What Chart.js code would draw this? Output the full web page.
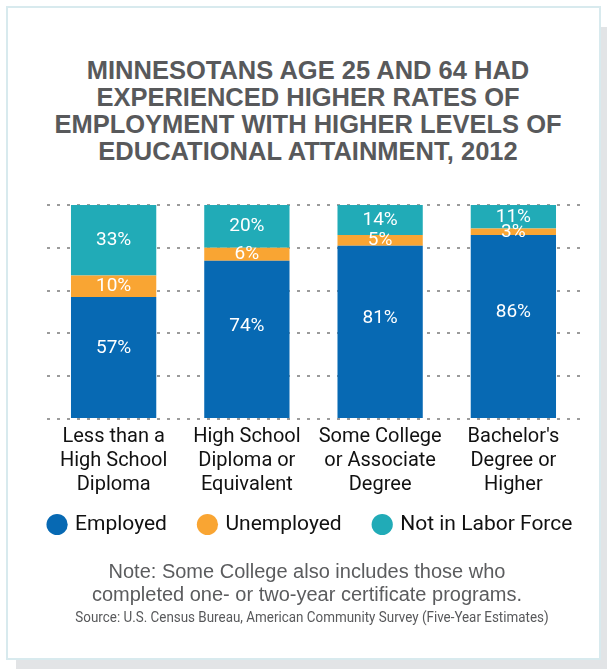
<!DOCTYPE html>
<html>
<head>
<meta charset="utf-8">
<script src="https://cdn.jsdelivr.net/npm/chart.js@4.4.1/dist/chart.umd.min.js"></script>
<style>
  body { margin: 0; background: #fff; width: 607px; height: 669px; overflow: hidden; position: relative; }
  .shadow { position: absolute; left: 16px; top: 27px; width: 600px; height: 660px; background: #e2e4e6; }
  .card { position: absolute; left: 6px; top: 6px; width: 591px; height: 650px; background: #fff; border: 2px solid #d8eaee; }
  .title { position: absolute; left: 0; top: 57px; width: 616px; text-align: center; color: #58595b;
    font: bold 25.5px/27px "Liberation Sans", Arial, sans-serif; }
  .note { position: absolute; left: 0; top: 560px; width: 614px; text-align: center; color: #5b5c5e;
    font: 20px/23px "Liberation Sans", Arial, sans-serif; }
  .source { position: absolute; left: 0; top: 608px; width: 624px; text-align: center; color: #58595b;
    font: 15px Roboto, sans-serif; transform: scaleX(0.894); transform-origin: 312px 0; }
  #chart { position: absolute; left: 0; top: 190px; }
</style>
</head>
<body>
<div class="shadow"></div>
<div class="card"></div>
<div class="title">MINNESOTANS AGE 25 AND 64 HAD<br>EXPERIENCED HIGHER RATES OF<br>EMPLOYMENT WITH HIGHER LEVELS OF<br>EDUCATIONAL ATTAINMENT, 2012</div>
<canvas id="chart" width="611" height="373"></canvas>
<div class="note">Note: Some College also includes those who<br>completed one- or two-year certificate programs.</div>
<div class="source">Source: U.S. Census Bureau, American Community Survey (Five-Year Estimates)</div>
<script>
const categories = [
  ["Less than a", "High School", "Diploma"],
  ["High School", "Diploma or", "Equivalent"],
  ["Some College", "or Associate", "Degree"],
  ["Bachelor's", "Degree or", "Higher"],
];
const seriesNames = ["Employed", "Unemployed", "Not in Labor Force"];
const employed = [57, 74, 81, 86];
const unemployed = [10, 6, 5, 3];
const notInLaborForce = [33, 20, 14, 11];
const colors = ["#0769b3", "#f9a533", "#21abb7"];

const font = "Roboto, sans-serif";

// white % labels inside each segment
const segmentLabels = {
  id: "segmentLabels",
  afterDatasetsDraw(chart) {
    const ctx = chart.ctx;
    ctx.save();
    ctx.fillStyle = "#fff";
    ctx.font = "19px " + font;
    ctx.textAlign = "center";
    ctx.textBaseline = "middle";
    chart.data.datasets.forEach((ds, i) => {
      chart.getDatasetMeta(i).data.forEach((bar, j) => {
        const { x, y, base } = bar.getProps(["x", "y", "base"], true);
        const ty = i === 0 ? y + (base - y) * 0.42 : (y + base) / 2;
        ctx.fillText(ds.data[j] + "%", x, ty);
      });
    });
    ctx.restore();
  },
};

// the legend's padding also spaces the items apart, so pull the row up a bit
const legendShift = {
  id: "legendShift",
  afterLayout(chart) {
    chart.legend.top -= 18;
    chart.legend.bottom -= 18;
  },
};

const config = {
  type: "bar",
  data: {
    labels: categories,
    datasets: [
      { label: seriesNames[0], data: employed, backgroundColor: colors[0] },
      { label: seriesNames[1], data: unemployed, backgroundColor: colors[1] },
      { label: seriesNames[2], data: notInLaborForce, backgroundColor: colors[2] },
    ],
  },
  options: {
    responsive: false,
    animation: false,
    barPercentage: 0.64,
    categoryPercentage: 1,
    layout: { padding: { top: 15, left: 11, right: 0, bottom: 0 } },
    scales: {
      x: {
        stacked: true,
        grid: { display: false, drawTicks: false },
        border: { display: false },
        ticks: { color: "#111", autoSkip: false, maxRotation: 0, padding: 6,
          font: { family: font, size: 20, lineHeight: 1.2 } },
        afterFit(scale) { scale.height = 80; },
      },
      y: {
        stacked: true,
        min: 0,
        max: 100,
        ticks: { display: false, stepSize: 20 },
        grid: { color: "#9b9b9b", lineWidth: 2, drawTicks: false },
        border: { display: false, dash: [3, 7] },
        afterFit(scale) { scale.width = 36; },
      },
      yRight: {
        position: "right",
        ticks: { display: false },
        grid: { display: false },
        border: { display: false },
        afterFit(scale) { scale.width = 31; },
      },
    },
    plugins: {
      legend: {
        position: "bottom",
        labels: {
          usePointStyle: true,
          pointStyle: "circle",
          boxWidth: 15,
          boxHeight: 15,
          padding: 33,
          color: "#111",
          font: { family: font, size: 21 },
        },
      },
      tooltip: { enabled: false },
    },
  },
  plugins: [segmentLabels, legendShift],
};

new Chart(document.getElementById("chart"), config);
</script>
</body>
</html>
